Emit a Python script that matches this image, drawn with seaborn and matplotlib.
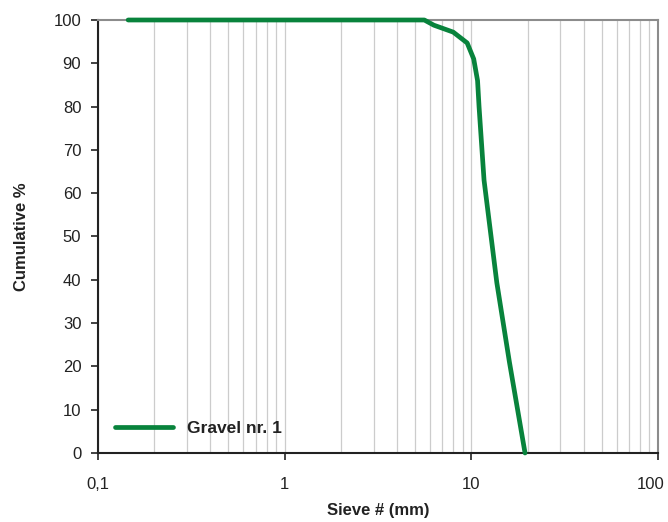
import numpy as np
import pandas as pd
import matplotlib
matplotlib.use('Agg')
import matplotlib.pyplot as plt
import matplotlib.ticker as mticker
import matplotlib.transforms as mtrans
import seaborn as sns

sns.set_style('white')
plt.rcParams['font.family'] = ['Liberation Sans', 'DejaVu Sans']

# granulometric curve
sieve_mm = [0.145, 5.6, 6.3, 8.0, 9.5, 10.3, 10.8, 11.0, 11.2, 11.7, 13.7, 16.0, 19.4]
cumulative = [100, 100, 98.8, 97.2, 94.7, 91.0, 86.0, 80.0, 75.0, 63.0, 39.3, 21.0, 0]
xticks = [0.1, 1, 10, 100]
xticklabels = ['0,1', '1', '10', '100']

df = pd.DataFrame({'sieve': sieve_mm, 'cum': cumulative})

fig = plt.figure(figsize=(6.68, 5.22), dpi=100)
ax = fig.add_axes([0.1467, 0.1322, 0.8383, 0.8295])

ax.set_xscale('log')
ax.set_xlim(0.1, 100)
ax.set_ylim(0, 100)

# vertical gridlines on every major & minor log position
ax.xaxis.set_minor_locator(mticker.LogLocator(base=10, subs=np.arange(2, 10)))
ax.grid(True, which='both', axis='x', color='#cccccc', linewidth=0.9)
ax.grid(False, axis='y')
ax.set_axisbelow(True)

sns.lineplot(data=df, x='sieve', y='cum', color='#08833c', linewidth=3.4,
             label='Gravel nr. 1', ax=ax, sort=False)
for ln in ax.get_lines():
    ln.set_clip_on(False)
    ln.set_zorder(5)

ax.set_xticks(xticks)
ax.set_xticklabels(xticklabels)
ax.set_yticks(range(0, 101, 10))
ax.tick_params(axis='both', which='major', direction='out', length=5, width=1.2,
               color='#222222', labelsize=12, labelcolor='#222222',
               bottom=True, left=True)
ax.tick_params(axis='x', which='major', pad=12)
ax.tick_params(axis='y', which='major', pad=7)
ax.tick_params(axis='x', which='minor', bottom=False)

# nudge last x label back inside the figure
lbl = ax.get_xticklabels()[-1]
lbl.set_transform(lbl.get_transform() + mtrans.ScaledTranslation(-7 / 100, 0, fig.dpi_scale_trans))

for s in ['left', 'bottom']:
    ax.spines[s].set_color('#222222')
    ax.spines[s].set_linewidth(1.5)
for s in ['top', 'right']:
    ax.spines[s].set_color('#8c8c8c')
    ax.spines[s].set_linewidth(1.5)

ax.set_xlabel('Sieve # (mm)', fontsize=12, fontweight='bold', color='#222222', labelpad=8)
ax.set_ylabel('Cumulative %', fontsize=12, fontweight='bold', color='#222222', labelpad=18)

leg = ax.legend(loc='lower left', frameon=False, fontsize=12.5, handlelength=3.3,
                borderaxespad=0.6, bbox_to_anchor=(0.0, 0.0))
for t in leg.get_texts():
    t.set_fontweight('bold')
    t.set_color('#222222')

fig.savefig('out.png', dpi=100)
